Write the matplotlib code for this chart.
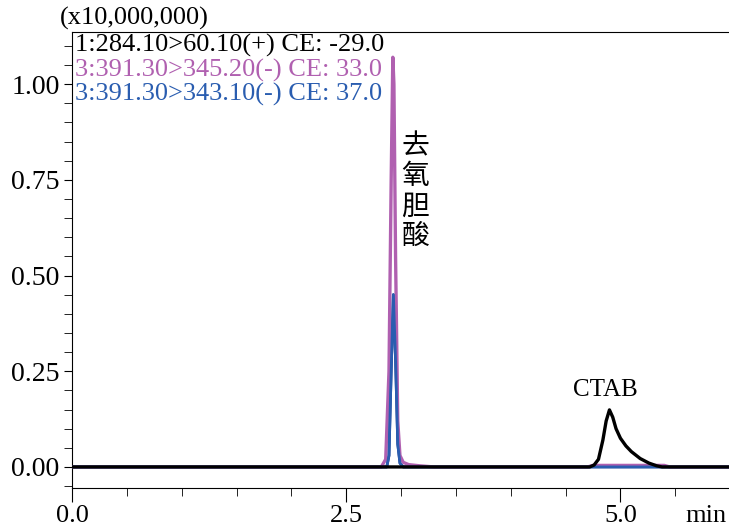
import matplotlib.pyplot as plt
from matplotlib.ticker import MultipleLocator, FormatStrFormatter

plt.rcParams['font.family'] = ['Liberation Serif', 'DejaVu Serif']

# retention time (min) / intensity (x10,000,000)
t_345 = [0.0, 2.82, 2.86, 2.89, 2.91, 2.925, 2.935, 2.95, 2.97, 2.99, 3.02, 3.07,
         3.17, 3.30, 4.70, 4.75, 5.40, 5.45, 6.0]
y_345 = [0.0, 0.0, 0.02, 0.25, 0.75, 1.07, 1.00, 0.55, 0.12, 0.03, 0.012, 0.006,
         0.003, 0.0, 0.0, 0.004, 0.004, 0.0, 0.0]

t_343 = [0.0, 2.87, 2.89, 2.91, 2.93, 2.95, 2.97, 2.99, 3.02, 6.0]
y_343 = [0.0, 0.0, 0.03, 0.25, 0.45, 0.28, 0.06, 0.01, 0.0, 0.0]

t_284 = [0.0, 4.72, 4.76, 4.80, 4.84, 4.87, 4.90, 4.93, 4.96, 5.00, 5.05, 5.10,
         5.18, 5.26, 5.33, 5.38, 6.0]
y_284 = [0.0, 0.0, 0.005, 0.02, 0.07, 0.12, 0.149, 0.13, 0.10, 0.075, 0.055, 0.04,
         0.022, 0.01, 0.003, 0.0, 0.0]

legend_lines = ['1:284.10>60.10(+) CE: -29.0',
                '3:391.30>345.20(-) CE: 33.0',
                '3:391.30>343.10(-) CE: 37.0']
colors = ['black', '#B060B0', '#2A5DB0']

fig = plt.figure(figsize=(7.29, 5.28), dpi=100)
ax = fig.add_axes([72 / 729, 1 - 488 / 528, 1 - 72 / 729, (488 - 32) / 528])

ax.plot(t_343, y_343, color='#1F3F8A', lw=2.0, zorder=2)
ax.plot(t_345, y_345, color=colors[1], lw=2.4, zorder=3)
ax.plot(t_343, y_343, color=colors[2], lw=2.0, zorder=4)
ax.plot(t_284, y_284, color=colors[0], lw=2.4, zorder=5)

ax.set_xlim(0, 5.99)
ax.set_ylim(-0.055, 1.136)
ax.spines['right'].set_visible(False)

ax.xaxis.set_major_locator(MultipleLocator(2.5))
ax.xaxis.set_minor_locator(MultipleLocator(0.5))
ax.xaxis.set_major_formatter(FormatStrFormatter('%.1f'))
ax.yaxis.set_major_locator(MultipleLocator(0.25))
ax.yaxis.set_minor_locator(MultipleLocator(0.05))
ax.yaxis.set_major_formatter(FormatStrFormatter('%.2f'))
ax.tick_params(axis='x', which='major', length=10, labelsize=19, pad=2)
ax.tick_params(axis='x', which='minor', length=6)
ax.tick_params(axis='y', which='both', length=6, labelsize=20, pad=3)

for i, (txt, c) in enumerate(zip(legend_lines, colors)):
    ax.text(0.004, 0.995 - i * 0.053, txt, color=c, fontsize=19,
            transform=ax.transAxes, va='top', ha='left')

fig.text(60 / 729, 1 - 18 / 528, '(x10,000,000)', fontsize=19, va='center', ha='left')
fig.text(727 / 729, 1 - 516 / 528, 'min', fontsize=19, va='center', ha='right')

ax.text(3.13, 0.72, '去\n氧\n胆\n酸', fontsize=20, va='center', ha='center',
        family=['Noto Sans CJK SC', 'DejaVu Sans'], fontweight='light',
        linespacing=1.0)
ax.text(4.86, 0.20, 'CTAB', fontsize=18, va='center', ha='center')

fig.savefig('out.png', dpi=100)
